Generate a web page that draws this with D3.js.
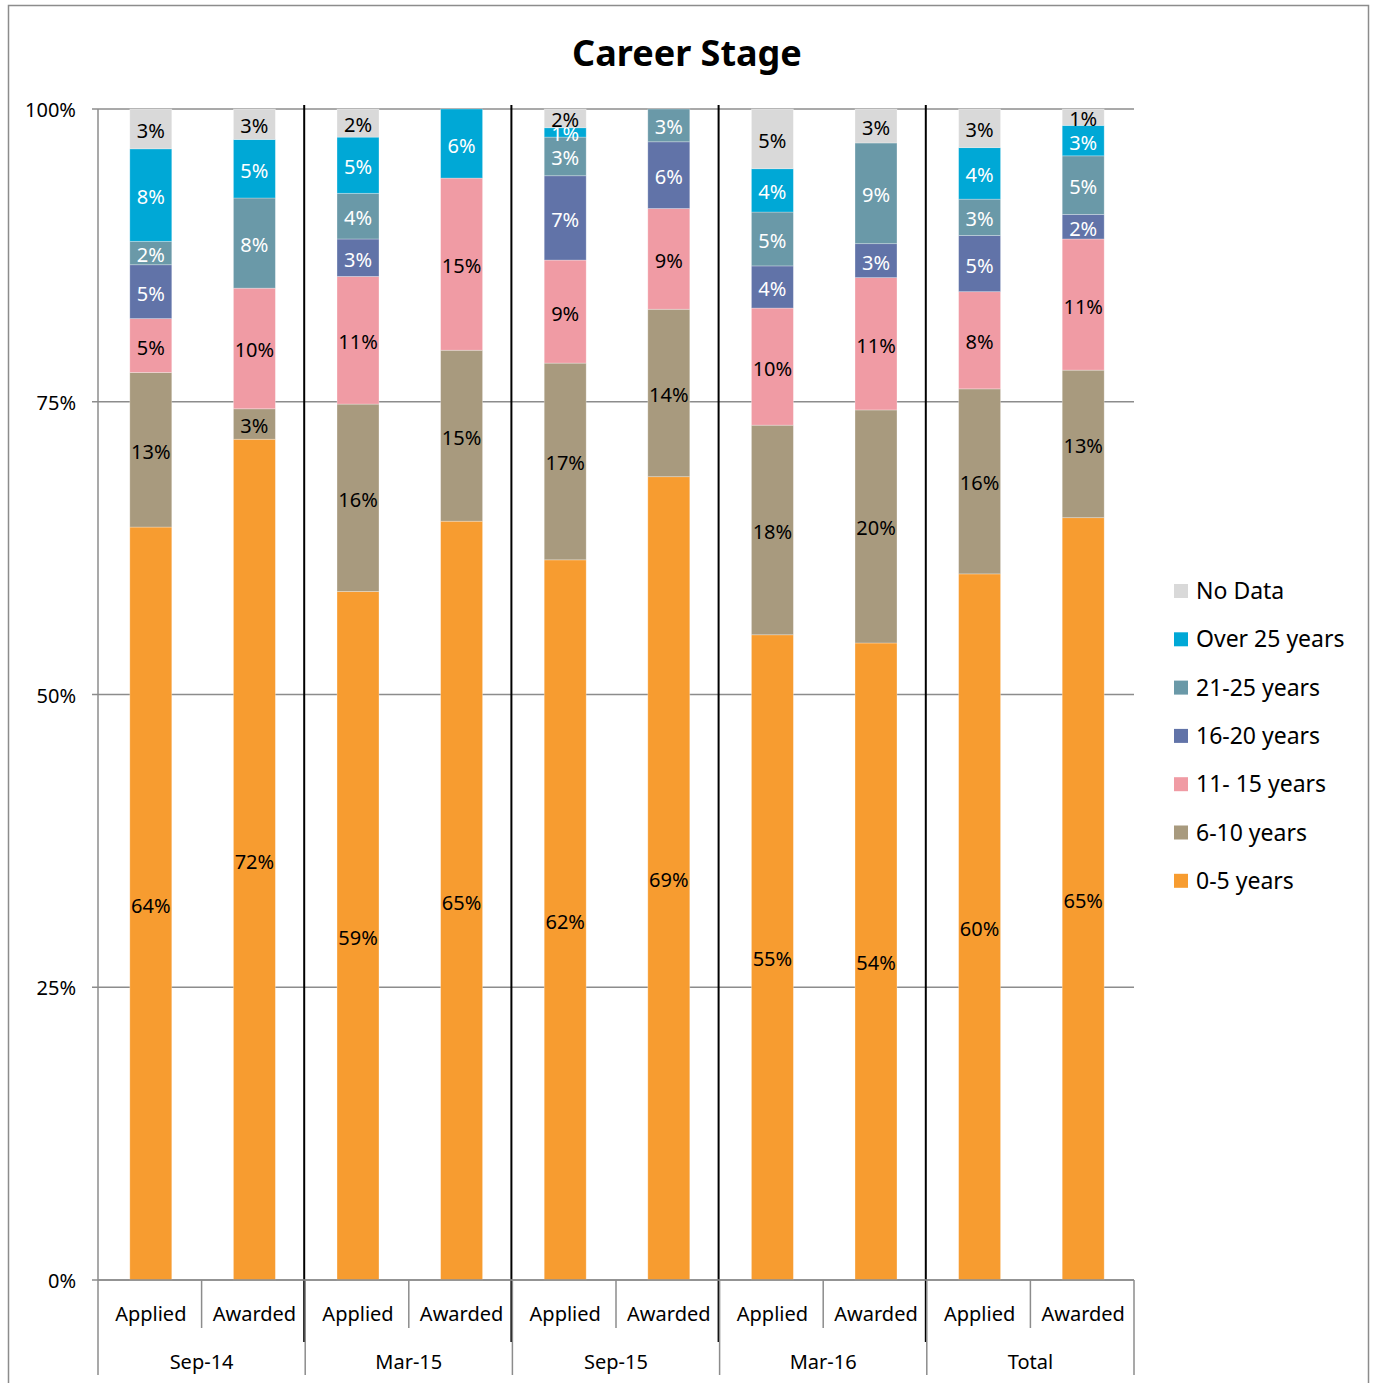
<!DOCTYPE html>
<html>
<head>
<meta charset="utf-8">
<script src="https://cdn.jsdelivr.net/npm/d3@7"></script>
<style>
  body { margin: 0; background: #fff; }
  text { font-family: "Noto Sans", "Open Sans", sans-serif; }
</style>
</head>
<body>
<div id="chart"></div>
<script>
const width = 1375;
const height = 1383;

// categories
const periods = ['Sep-14', 'Mar-15', 'Sep-15', 'Mar-16', 'Total'];
const statuses = ['Applied', 'Awarded'];
const seriesNames = ['0-5 years', '6-10 years', '11- 15 years', '16-20 years', '21-25 years', 'Over 25 years', 'No Data'];
const yTicks = [0, 0.25, 0.5, 0.75, 1];

// series values (percent), one per bar: Sep-14 Ap, Aw, Mar-15 Ap, Aw, ...
const years0to5   = [64.3, 71.8, 58.8, 64.8, 61.5, 68.6, 55.1, 54.4, 60.3, 65.1];
const years6to10  = [13.2,  2.6, 16.0, 14.6, 16.8, 14.3, 17.9, 19.9, 15.8, 12.6];
const years11to15 = [ 4.6, 10.3, 10.9, 14.7,  8.8,  8.6, 10.0, 11.3,  8.3, 11.2];
const years16to20 = [ 4.6,  0,    3.2,  0,    7.2,  5.7,  3.6,  2.9,  4.8,  2.1];
const years21to25 = [ 2.0,  7.7,  3.9,  0,    3.3,  2.8,  4.6,  8.6,  3.1,  5.0];
const over25      = [ 7.9,  5.0,  4.8,  5.9,  0.8,  0,    3.7,  0,    4.4,  2.6];
const noData      = [ 3.4,  2.6,  2.4,  0,    1.6,  0,    5.1,  2.9,  3.3,  1.4];

const seriesValues = [years0to5, years6to10, years11to15, years16to20, years21to25, over25, noData];
const colors = ['#f79c30', '#a89a7e', '#f09ba4', '#6173a8', '#6a99a8', '#00a8d6', '#d9d9d9'];
const whiteText = ['16-20 years', '21-25 years', 'Over 25 years'];

// table for d3.stack
const table = [];
periods.forEach((p, i) => {
    statuses.forEach((s, j) => {
        const idx = i * 2 + j;
        const row = {id: idx, period: p, status: s};
        seriesNames.forEach((n, k) => { row[n] = seriesValues[k][idx]; });
        table.push(row);
    });
});

const plotLeft = 98, plotRight = 1134, plotTop = 109, plotBottom = 1280;

const x = d3.scaleBand()
    .domain(table.map(d => d.id))
    .range([plotLeft + 1, plotRight + 1])
    .paddingInner(0.595)
    .paddingOuter(0.2975);

const y = d3.scaleLinear().domain([0, 1]).range([plotBottom, plotTop]);

const color = d3.scaleOrdinal(seriesNames, colors);

const stacked = d3.stack().keys(seriesNames).offset(d3.stackOffsetExpand)(table);

const svg = d3.select('#chart')
    .append('svg')
    .attr('width', width)
    .attr('height', height);

// outer frame
svg.append('rect')
    .attr('x', 8.5).attr('y', 5.5)
    .attr('width', 1360).attr('height', 1390)
    .attr('fill', 'none')
    .attr('stroke', '#8c8c8c')
    .attr('stroke-width', 1.5);

// title
svg.append('text')
    .attr('x', 687).attr('y', 66)
    .attr('text-anchor', 'middle')
    .style('font-size', '36px')
    .style('font-weight', 'bold')
    .text('Career Stage');

// gridlines
svg.append('g')
    .selectAll('line')
    .data(yTicks)
    .enter()
    .append('line')
        .attr('x1', plotLeft - 6).attr('x2', plotRight)
        .attr('y1', d => y(d)).attr('y2', d => y(d))
        .attr('stroke', '#8c8c8c')
        .attr('stroke-width', 1.5);

// y axis line + labels
svg.append('line')
    .attr('x1', plotLeft).attr('x2', plotLeft)
    .attr('y1', plotTop).attr('y2', plotBottom)
    .attr('stroke', '#8c8c8c').attr('stroke-width', 1.5);

svg.append('g')
    .selectAll('text')
    .data(yTicks)
    .enter()
    .append('text')
        .attr('x', 76)
        .attr('y', d => y(d) + 8)
        .attr('text-anchor', 'end')
        .style('font-size', '20px')
        .text(d3.format('.0%'));

// bars
const layer = svg.append('g')
    .selectAll('g')
    .data(stacked)
    .enter()
    .append('g')
        .attr('fill', d => color(d.key));

layer.selectAll('rect')
    .data(d => d)
    .enter()
    .append('rect')
        .attr('x', d => x(d.data.id))
        .attr('y', d => y(d[1]))
        .attr('width', x.bandwidth())
        .attr('height', d => y(d[0]) - y(d[1]))
        .attr('stroke', '#ffffff')
        .attr('stroke-opacity', 0.35)
        .attr('stroke-width', 0.8);

// segment labels
layer.selectAll('text')
    .data(d => d.filter(v => v.data[d.key] > 0).map(v => ({v: v, key: d.key})))
    .enter()
    .append('text')
        .attr('x', d => x(d.v.data.id) + x.bandwidth() / 2)
        .attr('y', d => (y(d.v[0]) + y(d.v[1])) / 2 + 9)
        .attr('text-anchor', 'middle')
        .attr('fill', d => whiteText.includes(d.key) ? '#ffffff' : '#000000')
        .style('font-size', '20px')
        .text(d => Math.round(d.v.data[d.key]) + '%');

// group separators (black)
const step = x.step();
svg.append('g')
    .selectAll('line')
    .data(periods.slice(1))
    .enter()
    .append('line')
        .attr('x1', (d, i) => plotLeft + step * 2 * (i + 1) - 1)
        .attr('x2', (d, i) => plotLeft + step * 2 * (i + 1) - 1)
        .attr('y1', 105).attr('y2', 1342)
        .attr('stroke', '#000').attr('stroke-width', 2);

// category axis
svg.append('line')
    .attr('x1', plotLeft).attr('x2', plotRight)
    .attr('y1', plotBottom).attr('y2', plotBottom)
    .attr('stroke', '#8c8c8c').attr('stroke-width', 1.5);

svg.append('g')
    .selectAll('line')
    .data(periods)
    .enter()
    .append('line')
        .attr('x1', (d, i) => plotLeft + step * (2 * i + 1))
        .attr('x2', (d, i) => plotLeft + step * (2 * i + 1))
        .attr('y1', plotBottom).attr('y2', 1328)
        .attr('stroke', '#8c8c8c').attr('stroke-width', 1.5);

svg.append('g')
    .selectAll('line')
    .data(d3.range(periods.length + 1))
    .enter()
    .append('line')
        .attr('x1', d => plotLeft + step * 2 * d)
        .attr('x2', d => plotLeft + step * 2 * d)
        .attr('y1', plotBottom).attr('y2', 1375)
        .attr('stroke', '#8c8c8c').attr('stroke-width', 1.5);

svg.append('g')
    .selectAll('text')
    .data(table)
    .enter()
    .append('text')
        .attr('x', d => x(d.id) + x.bandwidth() / 2)
        .attr('y', 1321)
        .attr('text-anchor', 'middle')
        .style('font-size', '20px')
        .text(d => d.status);

svg.append('g')
    .selectAll('text')
    .data(periods)
    .enter()
    .append('text')
        .attr('x', (d, i) => plotLeft + step * (2 * i + 1))
        .attr('y', 1369)
        .attr('text-anchor', 'middle')
        .style('font-size', '20px')
        .text(d => d);

// legend
const legendItems = seriesNames.slice().reverse();
const legend = svg.append('g')
    .selectAll('g')
    .data(legendItems)
    .enter()
    .append('g')
        .attr('transform', (d, i) => `translate(1174, ${591 + i * 48.3})`);

legend.append('rect')
    .attr('x', 0).attr('y', -7)
    .attr('width', 14).attr('height', 14)
    .attr('fill', d => color(d));

legend.append('text')
    .attr('x', 22).attr('y', 8)
    .style('font-size', '23px')
    .text(d => d);
</script>
</body>
</html>
